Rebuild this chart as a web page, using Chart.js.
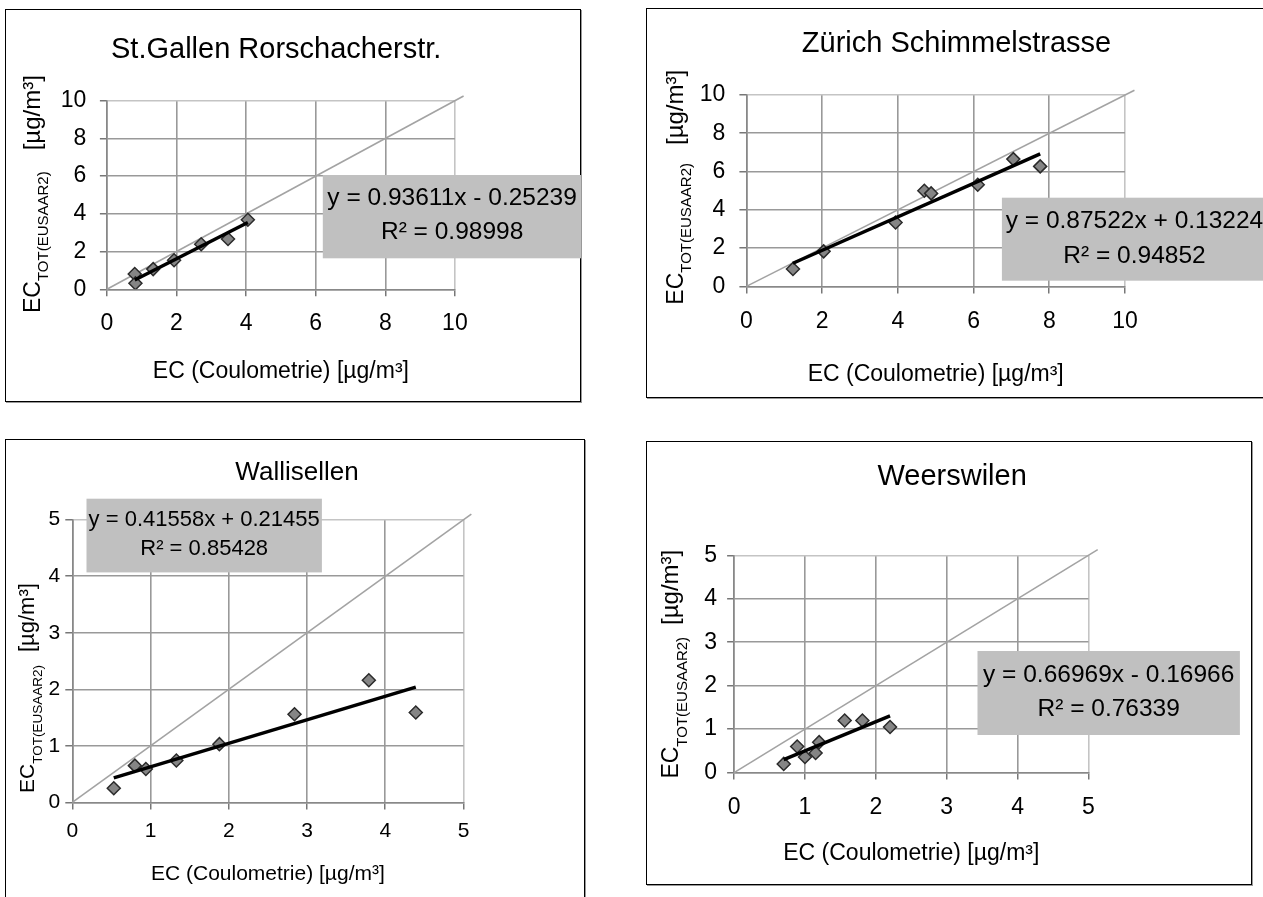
<!DOCTYPE html>
<html><head><meta charset="utf-8">
<script src="https://cdn.jsdelivr.net/npm/chart.js@4.4.0/dist/chart.umd.min.js"></script>
<style>
html,body{margin:0;padding:0;background:#fff;overflow:hidden;width:1263px;height:897px;}
.frame{position:absolute;box-sizing:border-box;border:1.5px solid #000;box-shadow:1px 1px 0 #999;}
canvas{position:absolute;}
</style></head><body>
<script>
const FONT = '"Liberation Sans", Arial, Helvetica, sans-serif';

// ---- data ----
const titles = ['St.Gallen Rorschacherstr.', 'Zürich Schimmelstrasse', 'Wallisellen', 'Weerswilen'];
const stgX = [0.80, 0.82, 1.33, 1.93, 2.71, 3.48, 4.05];
const stgY = [0.81, 0.32, 1.07, 1.54, 2.39, 2.67, 3.69];
const zurX = [1.23, 2.04, 3.94, 4.70, 4.88, 6.11, 7.05, 7.76];
const zurY = [0.91, 1.83, 3.34, 5.00, 4.86, 5.31, 6.65, 6.27];
const walX = [0.53, 0.80, 0.94, 1.33, 1.88, 2.84, 3.79, 4.39];
const walY = [0.25, 0.65, 0.59, 0.74, 1.03, 1.56, 2.16, 1.59];
const weeX = [0.70, 0.89, 1.00, 1.15, 1.20, 1.56, 1.81, 2.20];
const weeY = [0.20, 0.60, 0.36, 0.45, 0.70, 1.20, 1.20, 1.05];
const slopes = [0.93611, 0.87522, 0.41558, 0.66969];
const intercepts = [-0.25239, 0.13224, 0.21455, -0.16966];
const rSquared = [0.98998, 0.94852, 0.85428, 0.76339];
const ticks10 = [0, 2, 4, 6, 8, 10];
const ticks5 = [0, 1, 2, 3, 4, 5];
const diagEnds = [10.25, 10.25, 5.1, 5.13];
const xAxisTitle = 'EC (Coulometrie) [µg/m³]';
const yTitleMain = 'EC', yTitleSub = 'TOT(EUSAAR2)', yTitleUnit = '[µg/m³]';

// ---- layout (pixels) ----
const panels = [
  {xs: stgX, ys: stgY, ticks: ticks10, box: [4.6, 9, 580.7, 401.7], plot: [106.5, 100.7, 454.5, 289.3],
   tick: 23, axis: 23, xPad: 13.8, yPad: 13.5, xtY: 372, title: [275.8, 47.5, 29],
   eq: [322.4, 175, 581, 258.3, 196, 230, 24.5], yt: [31, 313, 23, 15, 24, 21]},
  {xs: zurX, ys: zurY, ticks: ticks10, box: [645.5, 8.3, 1268, 398.3], plot: [745.9, 95.3, 1124.5, 286.7],
   tick: 23, axis: 23, xPad: 14.3, yPad: 14, xtY: 375, title: [956, 41.7, 29],
   eq: [1001.4, 198, 1266.6, 281, 219.5, 254.7, 24.5], yt: [674, 305, 23, 15, 24, 18]},
  {xs: walX, ys: walY, ticks: ticks5, box: [4.6, 439.3, 585, 905], plot: [71.9, 520, 463.1, 802.7],
   tick: 21, axis: 21, xPad: 9.4, yPad: 5, xtY: 875, title: [296.6, 470.8, 26],
   eq: [86.1, 499, 321.5, 572.7, 518, 547, 22], yt: [25.8, 793.3, 21, 13.5, 22, 13]},
  {xs: weeX, ys: weeY, ticks: ticks5, box: [645.7, 440.7, 1251.7, 885], plot: [733.8, 555, 1088.2, 772.3],
   tick: 23, axis: 23, xPad: 13.8, yPad: 10, xtY: 853, title: [951.8, 474, 29],
   eq: [977.2, 650.7, 1239.6, 734.7, 673.3, 706.7, 24.5], yt: [669.4, 778.3, 23, 15, 24, 12]}
];

function fmtEq(i) {
  const b = intercepts[i];
  return 'y = ' + slopes[i] + 'x ' + (b < 0 ? '- ' : '+ ') + Math.abs(b);
}

panels.forEach((p, i) => {
  const [L, T, R, B] = p.box;
  const W = R - L, H = B - T;
  const [pl, pt, pr, pb] = p.plot;
  const frame = document.createElement('div');
  frame.className = 'frame';
  Object.assign(frame.style, {left: L + 'px', top: T + 'px', width: W + 'px', height: H + 'px'});
  document.body.appendChild(frame);
  const cv = document.createElement('canvas');
  const Wc = Math.round(W), Hc = Math.round(H);
  cv.width = Wc; cv.height = Hc;
  Object.assign(cv.style, {left: L + 'px', top: T + 'px', width: Wc + 'px', height: Hc + 'px'});
  document.body.appendChild(cv);

  const max = p.ticks[p.ticks.length - 1];
  const pts = p.xs.map((x, k) => ({x: x, y: p.ys[k]}));
  const xmin = Math.min(...p.xs), xmax = Math.max(...p.xs);
  const trend = [{x: xmin, y: slopes[i] * xmin + intercepts[i]}, {x: xmax, y: slopes[i] * xmax + intercepts[i]}];
  const diag = [{x: 0, y: 0}, {x: diagEnds[i], y: diagEnds[i]}];

  const axisLH = p.axis * 1.2;
  const xtPadBottom = Hc - (p.xtY - T) - axisLH / 2;

  const decor = {
    id: 'decor' + i,
    afterDraw(chart) {
      const ctx = chart.ctx;
      ctx.save();
      // title
      const [tx, ty, ts] = p.title;
      ctx.fillStyle = '#000';
      ctx.font = ts + 'px ' + FONT;
      ctx.textAlign = 'center';
      ctx.textBaseline = 'alphabetic';
      ctx.fillText(titles[i], tx - L, ty - T + 0.358 * ts);
      // equation box
      const [ex0, ey0, ex1, ey1, l1, l2, es] = p.eq;
      ctx.fillStyle = '#c0c0c0';
      ctx.fillRect(ex0 - L, ey0 - T, ex1 - ex0, ey1 - ey0);
      ctx.fillStyle = '#000';
      ctx.font = es + 'px ' + FONT;
      const ecx = (ex0 + ex1) / 2 - L;
      ctx.fillText(fmtEq(i), ecx, l1 - T + 0.358 * es);
      ctx.fillText('R² = ' + rSquared[i], ecx, l2 - T + 0.358 * es);
      // y-axis title (rotated, with subscript)
      const [ycx, ybot, sMain, sSub, sUnit, gap] = p.yt;
      ctx.translate(ycx - L, ybot - T);
      ctx.rotate(-Math.PI / 2);
      ctx.textAlign = 'left';
      const baseV = 0.358 * sMain;
      ctx.font = sMain + 'px ' + FONT;
      ctx.fillText(yTitleMain, 0, baseV);
      let u = ctx.measureText(yTitleMain).width;
      ctx.font = sSub + 'px ' + FONT;
      ctx.fillText(yTitleSub, u, baseV + 0.45 * sSub + 2);
      u += ctx.measureText(yTitleSub).width + gap;
      ctx.font = sUnit + 'px ' + FONT;
      ctx.fillText(yTitleUnit, u, baseV);
      ctx.restore();
    }
  };

  const gridColor = c => (c.tick && c.tick.value === max) ? '#c4c4c4' : '#999999';

  new Chart(cv, {
    type: 'scatter',
    data: {
      datasets: [
        {label: 'Trend', data: trend, showLine: true, borderColor: '#000', borderWidth: 3.5, pointRadius: 0, fill: false},
        {label: 'EC', data: pts, pointStyle: 'rectRot', pointRadius: 6.5, pointBackgroundColor: '#858585',
         pointBorderColor: '#2b2b2b', pointBorderWidth: 1.5, showLine: false},
        {label: '1:1', data: diag, showLine: true, borderColor: '#a3a3a3', borderWidth: 1.6, pointRadius: 0, fill: false, clip: false}
      ]
    },
    options: {
      responsive: false, animation: false, devicePixelRatio: 1,
      layout: {padding: {left: 0, top: pt - T, right: Wc - (pr - L), bottom: 0}},
      plugins: {legend: {display: false}, tooltip: {enabled: false}, title: {display: false, text: titles[i]}},
      scales: {
        x: {
          type: 'linear', min: 0, max: max,
          afterBuildTicks: s => { s.ticks = p.ticks.map(v => ({value: v})); },
          afterFit: s => { s.height = Hc - (pb - T); },
          grid: {color: gridColor, lineWidth: 1.6, tickLength: 7, tickColor: '#555', tickWidth: 1.2},
          border: {color: '#888', width: 1.6},
          ticks: {font: {family: FONT, size: p.tick}, color: '#000', padding: p.xPad, maxRotation: 0, autoSkip: false},
          title: {display: true, text: xAxisTitle, font: {family: FONT, size: p.axis}, color: '#000', padding: {top: 0, bottom: xtPadBottom}}
        },
        y: {
          type: 'linear', min: 0, max: max,
          afterBuildTicks: s => { s.ticks = p.ticks.map(v => ({value: v})); },
          afterFit: s => { s.width = pl - L; },
          grid: {color: gridColor, lineWidth: 1.6, tickLength: 7, tickColor: '#555', tickWidth: 1.2},
          border: {color: '#888', width: 1.6},
          ticks: {font: {family: FONT, size: p.tick}, color: '#000', padding: p.yPad, autoSkip: false},
          title: {display: false, text: yTitleMain + yTitleSub + ' ' + yTitleUnit}
        }
      }
    },
    plugins: [decor]
  });
});
</script>
</body></html>
